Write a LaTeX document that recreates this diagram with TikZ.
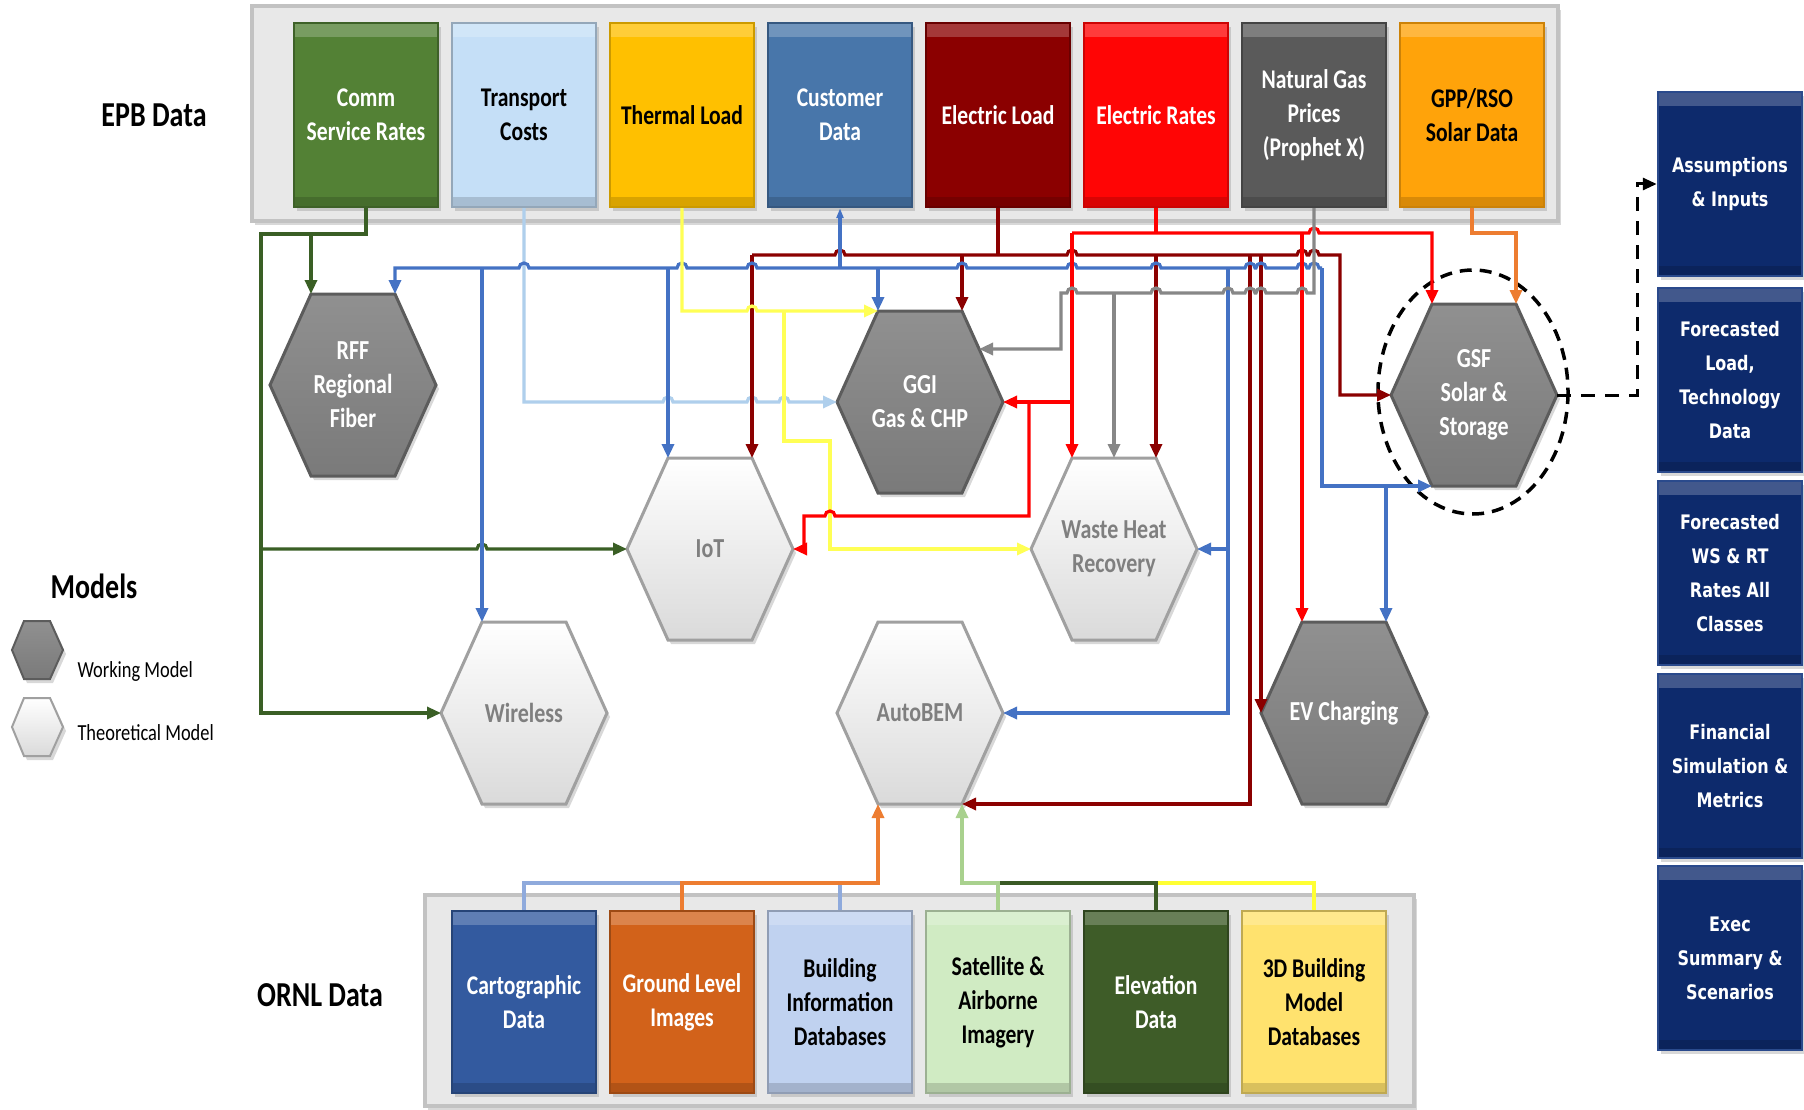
\documentclass[tikz,border=0pt]{standalone}
\usepackage{fontspec}
\setmainfont{Carlito}[FakeStretch=0.8]
\newfontfamily\vfont{DejaVu Sans}[FakeStretch=0.8]
\usetikzlibrary{arrows.meta,shadows}

\definecolor{cComm}{HTML}{538135}
\definecolor{cTrans}{HTML}{C5DFF7}
\definecolor{cTherm}{HTML}{FFC000}
\definecolor{cCust}{HTML}{4876AA}
\definecolor{cELoad}{HTML}{8B0000}
\definecolor{cERates}{HTML}{FF0505}
\definecolor{cNGas}{HTML}{5A5A5A}
\definecolor{cGPP}{HTML}{FFA30A}
\definecolor{cCarto}{HTML}{335A9F}
\definecolor{cGround}{HTML}{D2621A}
\definecolor{cBIM}{HTML}{C0D2F0}
\definecolor{cSat}{HTML}{D0EBC3}
\definecolor{cElev}{HTML}{3E5C28}
\definecolor{cThreeD}{HTML}{FFE26E}
\definecolor{navy}{HTML}{0D2A6C}
\definecolor{navyedge}{HTML}{2A4A8C}
\definecolor{framefill}{HTML}{E8E8E8}
\definecolor{frameedge}{HTML}{C2C2C2}
\definecolor{hexdtop}{HTML}{909090}
\definecolor{hexdbot}{HTML}{7A7A7A}
\definecolor{hexdedge}{HTML}{5C5C5C}
\definecolor{hexltop}{HTML}{FFFFFF}
\definecolor{hexlbot}{HTML}{DADADA}
\definecolor{hexledge}{HTML}{A0A0A0}
\definecolor{hexltext}{HTML}{7F7F7F}
\definecolor{lgreen}{HTML}{3A5F25}
\definecolor{ltblue}{HTML}{AFCFEC}
\definecolor{lyellow}{HTML}{FFFF55}
\definecolor{lblue}{HTML}{4472C4}
\definecolor{ldred}{HTML}{8B0000}
\definecolor{lred}{HTML}{FF0000}
\definecolor{lgrey}{HTML}{878787}
\definecolor{lorange}{HTML}{ED7D31}
\definecolor{lperi}{HTML}{8FAADC}
\definecolor{llgrn}{HTML}{A9D18E}
\definecolor{ldgrn}{HTML}{3A5A25}
\definecolor{lyel2}{HTML}{FFFF33}

\tikzset{
  shad/.style={drop shadow={shadow xshift=3pt,shadow yshift=-4pt,opacity=0.3}},
  box/.style={minimum width=144pt, minimum height=184pt, inner sep=0pt, align=center,
    line width=2.5pt, shad, font=\bfseries\fontsize{27}{34}\selectfont,
    path picture={
      \fill[white,opacity=0.22] (path picture bounding box.north west) rectangle ([yshift=-14pt]path picture bounding box.north east);
      \fill[black,opacity=0.15] (path picture bounding box.south west) rectangle ([yshift=10pt]path picture bounding box.south east);}},
  bbox/.style={box, minimum height=182pt},
  rbox/.style={box, fill=navy, draw=navyedge, text=white, font=\vfont\bfseries\fontsize{20}{34}\selectfont},
  frame/.style={fill=framefill, draw=frameedge, line width=4pt, shad},
  darkhex/.style={top color=hexdtop, bottom color=hexdbot, draw=hexdedge, line width=3pt, shad},
  lighthex/.style={top color=hexltop, bottom color=hexlbot, draw=hexledge, line width=3pt, shad},
  dtext/.style={text=white, align=center, font=\bfseries\fontsize{27.5}{34}\selectfont},
  ltext/.style={text=hexltext, align=center, font=\bfseries\fontsize{27.5}{34}\selectfont},
  w/.style={line width=3.2pt, draw=#1},
  arr/.style={-{Triangle[length=14pt,width=12pt]}},
  lbl/.style={font=\bfseries\fontsize{35}{40}\selectfont},
  legtext/.style={anchor=west, font=\fontsize{23}{27}\selectfont},
}

\newcommand\hopr[2]{-- ({#1-5},{#2}) arc[start angle=180,end angle=0,radius=5pt]}
\newcommand\hopl[2]{-- ({#1+5},{#2}) arc[start angle=0,end angle=180,radius=5pt]}

% name, cx, cy, shape style, text style, text
\newcommand\myhex[6]{%
  \path[#4] ({#2-83},{#3}) -- ({#2-42},{#3-91}) -- ({#2+42},{#3-91}) -- ({#2+83},{#3})
     -- ({#2+42},{#3+91}) -- ({#2-42},{#3+91}) -- cycle;
  \node[#5] (#1) at (#2,#3) {#6};
  \coordinate (#1-tl) at ({#2-42},{#3-91});
  \coordinate (#1-t)  at ({#2},{#3-91});
  \coordinate (#1-tr) at ({#2+42},{#3-91});
  \coordinate (#1-l)  at ({#2-83},{#3});
  \coordinate (#1-r)  at ({#2+83},{#3});
  \coordinate (#1-bl) at ({#2-42},{#3+91});
  \coordinate (#1-br) at ({#2+42},{#3+91});
}

\begin{document}
\begin{tikzpicture}[x=1pt,y=-1pt]
\useasboundingbox (0,0) rectangle (1804,1110);
\fill[white] (0,0) rectangle (1804,1110);

% ---------- frames ----------
\path[frame] (252,6) rectangle (1558,221);
\path[frame] (425,895) rectangle (1414,1106);

% ---------- EPB boxes ----------
\node[box, fill=cComm,   draw=cComm!75!black,   text=white] (comm)      at (366,115)  {Comm\\Service Rates};
\node[box, fill=cTrans,  draw=cTrans!75!black,  text=black] (transport) at (524,115)  {Transport\\Costs};
\node[box, fill=cTherm,  draw=cTherm!80!black,  text=black] (thermal)   at (682,115)  {Thermal Load};
\node[box, fill=cCust,   draw=cCust!75!black,   text=white] (customer)  at (840,115)  {Customer\\Data};
\node[box, fill=cELoad,  draw=cELoad!75!black,  text=white] (eload)     at (998,115)  {Electric Load};
\node[box, fill=cERates, draw=cERates!80!black, text=white] (erates)    at (1156,115) {Electric Rates};
\node[box, fill=cNGas,   draw=cNGas!75!black,   text=white] (ngas)      at (1314,115) {Natural Gas\\Prices\\(Prophet X)};
\node[box, fill=cGPP,    draw=cGPP!80!black,    text=black] (gpp)       at (1472,115) {GPP/RSO\\Solar Data};

% ---------- ORNL boxes ----------
\node[bbox, fill=cCarto,  draw=cCarto!75!black,  text=white] (carto)  at (524,1002)  {Cartographic\\Data};
\node[bbox, fill=cGround, draw=cGround!75!black, text=white] (ground) at (682,1002)  {Ground Level\\Images};
\node[bbox, fill=cBIM,    draw=cBIM!75!black,    text=black] (bim)    at (840,1002)  {Building\\Information\\Databases};
\node[bbox, fill=cSat,    draw=cSat!75!black,    text=black] (sat)    at (998,1002)  {Satellite \&\\Airborne\\Imagery};
\node[bbox, fill=cElev,   draw=cElev!75!black,   text=white] (elev)   at (1156,1002) {Elevation\\Data};
\node[bbox, fill=cThreeD, draw=cThreeD!75!black, text=black] (bldg)   at (1314,1002) {3D Building\\Model\\Databases};

% ---------- right column ----------
\node[rbox] (r1) at (1730,184) {Assumptions\\\& Inputs};
\node[rbox] (r2) at (1730,380) {Forecasted\\Load,\\Technology\\Data};
\node[rbox] (r3) at (1730,573) {Forecasted\\WS \& RT\\Rates All\\Classes};
\node[rbox] (r4) at (1730,766) {Financial\\Simulation \&\\Metrics};
\node[rbox] (r5) at (1730,958) {Exec\\Summary \&\\Scenarios};

% ---------- labels ----------
\node[lbl] (epb)  at (154,115) {EPB Data};
\node[lbl] (ornl) at (320,995) {ORNL Data};
\node[lbl] (models) at (94,586) {Models};

% legend
\path[darkhex,line width=2pt] (12,650) -- (24,621) -- (50,621) -- (63,650) -- (50,679) -- (24,679) -- cycle;
\path[lighthex,line width=2pt] (12,727) -- (24,698) -- (50,698) -- (63,727) -- (50,756) -- (24,756) -- cycle;
\node[legtext] (lgw) at (74,671) {Working Model};
\node[legtext] (lgt) at (74,733) {Theoretical Model};

% ---------- hexagons ----------
\myhex{rff}{353}{385}{darkhex}{dtext}{RFF\\Regional\\Fiber}
\myhex{ggi}{920}{402}{darkhex}{dtext}{GGI\\Gas \& CHP}
\myhex{iot}{710}{549}{lighthex}{ltext}{IoT}
\myhex{whr}{1114}{549}{lighthex}{ltext}{Waste Heat\\Recovery}
\myhex{gsf}{1474}{395}{darkhex}{dtext}{GSF\\Solar \&\\Storage}
\myhex{wire}{524}{713}{lighthex}{ltext}{Wireless}
\myhex{autobem}{920}{713}{lighthex}{ltext}{AutoBEM}
\myhex{ev}{1344}{713}{darkhex}{dtext}{EV Charging}
\coordinate (ggi-ur) at (979,349);

% dashed ring around GSF
\draw[black, dashed, dash pattern=on 12pt off 8pt, line width=3.5pt] (1473,392) ellipse [x radius=95, y radius=122];

% ---------- connectors ----------
% green (Comm Service Rates)
\draw[w=lgreen, arr] (comm.south) -- (366,234) -- (311,234) -- (rff-tl);
\draw[w=lgreen, arr] (311,234) -- (261,234) -- (261,713) -- (wire-l);
\draw[w=lgreen, arr] (261,549) \hopr{482}{549} -- (iot-l);

% light blue (Transport Costs)
\draw[w=ltblue, arr] (transport.south) -- (524,402) \hopr{668}{402} \hopr{752}{402} \hopr{784}{402} -- (ggi-l);

% dark red (Electric Load)
\draw[w=ldred] (eload.south) -- (998,255);
\draw[w=ldred, arr] (752,255) \hopr{840}{255} \hopr{1072}{255} \hopr{1302}{255} \hopr{1314}{255} -- (1340,255) -- (1340,395) -- (gsf-l);
\draw[w=ldred, arr] (752,255) -- (iot-tr);
\draw[w=ldred, arr] (962,255) -- (ggi-tr);
\draw[w=ldred, arr] (1156,255) -- (whr-tr);
\draw[w=ldred, arr] (1250,255) -- (1250,804) -- (autobem-br);
\draw[w=ldred, arr] (1261,255) -- (ev-l);

% blue (Customer Data)
\draw[w=lblue, {Triangle[length=10pt,width=7pt]}-] (customer.south) -- (840,268);
\draw[w=lblue, arr] (1322,268) \hopl{1314}{268} \hopl{1302}{268} \hopl{1261}{268} \hopl{1250}{268}
   \hopl{1156}{268} \hopl{1072}{268} \hopl{962}{268} \hopl{752}{268} \hopl{682}{268} \hopl{524}{268}
   -- (395,268) -- (rff-tr);
\draw[w=lblue, arr] (482,268) -- (wire-tl);
\draw[w=lblue, arr] (668,268) -- (iot-tl);
\draw[w=lblue, arr] (878,268) -- (ggi-tl);
\draw[w=lblue, arr] (1228,268) -- (1228,713) -- (autobem-r);
\draw[w=lblue, arr] (1228,549) -- (whr-r);
\draw[w=lblue, arr] (1322,268) -- (1322,486) -- (gsf-bl);
\draw[w=lblue, arr] (1386,486) -- (ev-tr);

% yellow (Thermal Load)
\draw[w=lyellow, arr] (thermal.south) -- (682,311) \hopr{752}{311} -- (ggi-tl);
\draw[w=lyellow, arr] (784,311) -- (784,441) -- (830,441) -- (830,549) -- (whr-l);

% red (Electric Rates)
\draw[w=lred] (erates.south) -- (1156,233);
\draw[w=lred, arr] (1072,233) \hopr{1314}{233} -- (1432,233) -- (gsf-tl);
\draw[w=lred, arr] (1072,233) -- (whr-tl);
\draw[w=lred, arr] (1072,402) -- (ggi-r);
\draw[w=lred, arr] (1029,402) -- (1029,516) \hopl{830}{516} -- (804,516) -- (804,549) -- (iot-r);
\draw[w=lred, arr] (1302,233) -- (ev-tl);

% grey (Natural Gas Prices)
\draw[w=lgrey, arr] (ngas.south) -- (1314,293) \hopl{1302}{293} \hopl{1261}{293} \hopl{1250}{293}
   \hopl{1228}{293} \hopl{1156}{293} \hopl{1072}{293} -- (1061,293) -- (1061,349) -- (ggi-ur);
\draw[w=lgrey, arr] (1114,293) -- (whr-t);

% orange (GPP/RSO Solar Data)
\draw[w=lorange, arr] (gpp.south) -- (1472,233) -- (1516,233) -- (gsf-tr);

% dashed output arrow
\draw[black, line width=3pt, dashed, dash pattern=on 14pt off 10pt, arr] (gsf-r) -- (1637,395) -- (1637,184) -- (r1.west);

% bottom (ORNL) feeds into AutoBEM
\draw[w=lperi] (carto.north) -- (524,883) -- (682,883);
\draw[w=lperi] (bim.north) -- (840,883);
\draw[w=lorange, arr] (ground.north) -- (682,883) -- (878,883) -- (autobem-bl);
\draw[w=lyel2] (bldg.north) -- (1314,883) -- (1156,883);
\draw[w=ldgrn] (elev.north) -- (1156,883) -- (998,883);
\draw[w=llgrn, arr] (sat.north) -- (998,883) -- (962,883) -- (autobem-br);

\end{tikzpicture}
\end{document}
